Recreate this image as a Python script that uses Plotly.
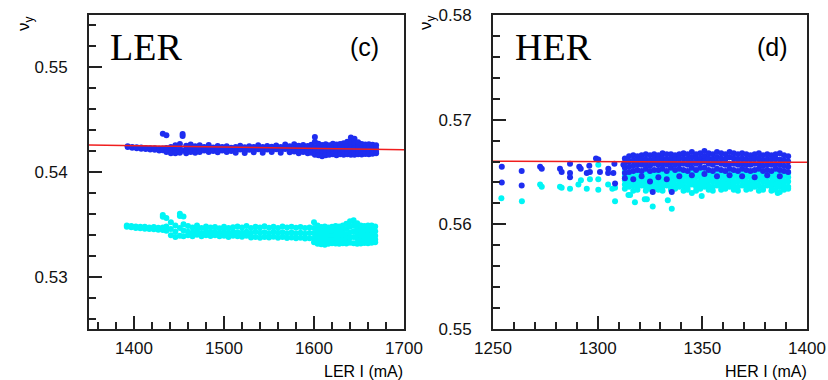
import plotly.graph_objects as go

# ---------------- data ----------------
# LER panel (c): blue = upper band, cyan = lower band; columns of x with the y values at that x
ler_blue_x = [1393, 1398, 1403, 1408, 1413, 1418, 1423, 1428, 1432, 1436, 1441, 1446, 1451, 1454, 1458,
              1463, 1468, 1473, 1478, 1483, 1488, 1493, 1498, 1503, 1508, 1513, 1518, 1523, 1528, 1533,
              1538, 1543, 1548, 1553, 1558, 1563, 1568, 1573, 1578, 1583, 1588, 1593, 1597, 1601, 1605,
              1609, 1613, 1617, 1621, 1625, 1629, 1633, 1637, 1641, 1645, 1649, 1653, 1657, 1661, 1665, 1669]
ler_blue_y = [
    [.54245, .54238], [.54240, .54232], [.54236, .54228], [.54233, .54222], [.54230, .54220],
    [.54226, .54214], [.54228, .54212], [.54222, .54205], [.54365, .54225, .54208], [.54350, .54230, .54190],
    [.54240, .54205, .54180], [.54255, .54215, .54178], [.54268, .54222, .54185], [.54362, .54345, .54205],
    [.54250, .54215, .54180], [.54262, .54225, .54190], [.54245, .54210, .54185], [.54255, .54220, .54192],
    [.54240, .54205], [.54258, .54218, .54190], [.54235, .54200], [.54248, .54212, .54188], [.54238, .54205],
    [.54245, .54215, .54190], [.54232, .54200], [.54240, .54208, .54185], [.54250, .54215],
    [.54236, .54200, .54182], [.54245, .54212], [.54240, .54205, .54188], [.54255, .54218],
    [.54238, .54202, .54185], [.54248, .54215], [.54242, .54208, .54190], [.54252, .54218],
    [.54240, .54205, .54185], [.54262, .54220], [.54245, .54210, .54188], [.54265, .54222, .54195],
    [.54250, .54212, .54180], [.54258, .54220, .54190], [.54248, .54205, .54178], [.54260, .54225, .54185],
    [.54335, .54290, .54240, .54200, .54165], [.54270, .54228, .54190, .54160], [.54258, .54215, .54178, .54150],
    [.54265, .54230, .54195, .54160], [.54255, .54220, .54185, .54165], [.54270, .54232, .54195, .54170],
    [.54262, .54225, .54188, .54160], [.54268, .54230, .54195, .54170], [.54275, .54238, .54200, .54165],
    [.54290, .54245, .54205, .54170], [.54330, .54280, .54235, .54195, .54165],
    [.54318, .54275, .54230, .54190, .54165], [.54285, .54240, .54200, .54170], [.54268, .54230, .54195, .54168],
    [.54262, .54225, .54190, .54172], [.54265, .54228, .54195, .54170], [.54260, .54225, .54192, .54175],
    [.54255, .54222, .54190, .54178],
]

ler_cyan_x = [1392, 1397, 1402, 1407, 1412, 1417, 1422, 1427, 1432, 1436, 1441, 1446, 1451, 1455, 1460,
              1465, 1470, 1475, 1480, 1485, 1490, 1495, 1500, 1505, 1510, 1515, 1520, 1525, 1530, 1535,
              1540, 1545, 1550, 1555, 1560, 1565, 1570, 1575, 1580, 1585, 1590, 1595, 1600, 1604, 1608,
              1612, 1616, 1620, 1624, 1628, 1632, 1636, 1640, 1644, 1648, 1652, 1656, 1660, 1664, 1668]
ler_cyan_y = [
    [.53488, .53478], [.53485, .53472], [.53480, .53466], [.53476, .53462], [.53478, .53458],
    [.53470, .53455], [.53475, .53452], [.53468, .53448], [.53590, .53572, .53470, .53445],
    [.53560, .53480, .53438], [.53520, .53455, .53395], [.53490, .53430, .53380],
    [.53600, .53580, .53465, .53390], [.53575, .53500, .53440, .53385], [.53485, .53430, .53395],
    [.53470, .53420, .53385], [.53490, .53440, .53400], [.53465, .53415, .53385], [.53480, .53435, .53395],
    [.53470, .53425, .53388], [.53475, .53430, .53395], [.53462, .53418, .53385], [.53478, .53432, .53392],
    [.53465, .53420, .53380], [.53472, .53428, .53390], [.53480, .53425, .53385], [.53470, .53420, .53382],
    [.53485, .53430, .53390], [.53465, .53418, .53375], [.53478, .53428, .53380], [.53470, .53420, .53372],
    [.53482, .53425, .53380], [.53468, .53415, .53375], [.53476, .53428, .53382], [.53465, .53418, .53372],
    [.53480, .53425, .53378], [.53470, .53415, .53370], [.53478, .53422, .53375], [.53468, .53412, .53368],
    [.53475, .53420, .53372], [.53465, .53410, .53365], [.53470, .53418, .53368],
    [.53520, .53465, .53415, .53365, .53330], [.53490, .53440, .53395, .53350, .53315],
    [.53475, .53430, .53385, .53345, .53310], [.53480, .53435, .53390, .53350, .53305],
    [.53470, .53428, .53385, .53345, .53315], [.53478, .53432, .53388, .53350, .53320],
    [.53485, .53440, .53395, .53352, .53318], [.53480, .53435, .53390, .53348, .53315],
    [.53490, .53442, .53398, .53355, .53320], [.53505, .53455, .53405, .53360, .53318],
    [.53530, .53480, .53425, .53375, .53325], [.53540, .53490, .53435, .53380, .53320],
    [.53510, .53460, .53410, .53365, .53315], [.53490, .53440, .53395, .53355, .53318],
    [.53485, .53438, .53390, .53350, .53322], [.53490, .53442, .53395, .53352, .53320],
    [.53488, .53440, .53392, .53350, .53325], [.53480, .53435, .53390, .53355, .53328],
]

ler_fit_x = [1350, 1700]
ler_fit_y = [0.54258, 0.54212]

# HER panel (d)
her_blue_sparse_x = [1254.2, 1254.2, 1263.7, 1263.7, 1272.5, 1273.3, 1282.0, 1282.8, 1286.8, 1286.8, 1286.8,
                     1291.2, 1291.9, 1294.8, 1296.0, 1296.3, 1299.2, 1300.3, 1301.1, 1305.1, 1305.0, 1307.5,
                     1308.0, 1308.3, 1312.3, 1326.3, 1335.4]
her_blue_sparse_y = [.5655, .5640, .5651, .5637, .5655, .5653, .5653, .5650, .5658, .5649, .5645,
                     .5655, .5653, .5649, .5656, .5650, .5663, .5662, .5650, .5653, .5649, .5649,
                     .5658, .5639, .5657, .5631, .5631]

her_cyan_sparse_x = [1254.0, 1263.8, 1272.5, 1273.3, 1282.0, 1282.8, 1286.8, 1290.8, 1292.0, 1294.8, 1296.3,
                     1300.3, 1300.3, 1300.3, 1305.0, 1307.0, 1308.3, 1308.3, 1314.7, 1315.5, 1317.8, 1322.5,
                     1323.5, 1326.3, 1333.5, 1335.4, 1345.0, 1349.7, 1386.0]
her_cyan_sparse_y = [.5625, .5622, .5638, .5636, .5636, .5635, .5634, .5638, .5642, .5634, .5643,
                     .5657, .5643, .5633, .5638, .5634, .5635, .5622, .5628, .5628, .5621, .5624,
                     .5624, .5617, .5623, .5615, .5630, .5627, .5630]

her_dense_x = [1313, 1315, 1317, 1319, 1321, 1323, 1325, 1327, 1329, 1331, 1333, 1335, 1337, 1339, 1341,
               1343, 1345, 1347, 1349, 1351, 1353, 1355, 1357, 1359, 1361, 1363, 1365, 1367, 1369, 1371,
               1373, 1375, 1377, 1379, 1381, 1383, 1385, 1387, 1389, 1391]
her_blue_dense_y = [
    [.5663, .5659, .5654, .5649, .5644], [.5665, .5660, .5655, .5650], [.5666, .5661, .5656, .5651, .5643],
    [.5665, .5661, .5657, .5652], [.5666, .5662, .5657, .5651, .5646], [.5667, .5662, .5658, .5653],
    [.5666, .5661, .5656, .5651, .5641], [.5667, .5663, .5658, .5652], [.5666, .5662, .5657, .5652, .5645],
    [.5668, .5663, .5658, .5653], [.5667, .5662, .5657, .5651, .5643], [.5667, .5663, .5659, .5654],
    [.5666, .5662, .5657, .5652], [.5667, .5663, .5658, .5653, .5646], [.5668, .5663, .5658, .5652],
    [.5667, .5662, .5657, .5651], [.5669, .5664, .5659, .5654, .5647], [.5667, .5663, .5658, .5652],
    [.5668, .5663, .5659, .5654], [.5670, .5665, .5660, .5654, .5648], [.5668, .5663, .5658, .5652],
    [.5667, .5662, .5657, .5651], [.5669, .5664, .5659, .5653, .5646], [.5668, .5663, .5658, .5652],
    [.5667, .5662, .5657, .5651], [.5669, .5664, .5658, .5653, .5647], [.5668, .5663, .5658, .5652],
    [.5667, .5662, .5657, .5651], [.5668, .5663, .5658, .5653, .5646], [.5667, .5662, .5657, .5652],
    [.5666, .5662, .5657, .5651], [.5667, .5663, .5658, .5652, .5645], [.5668, .5663, .5658, .5653],
    [.5666, .5661, .5656, .5651], [.5667, .5662, .5657, .5652, .5647], [.5666, .5662, .5657, .5651],
    [.5667, .5663, .5658, .5653], [.5668, .5662, .5657, .5652, .5646], [.5666, .5661, .5656, .5651],
    [.5665, .5660, .5655, .5650],
]
her_cyan_dense_y = [
    [.5650, .5646, .5642, .5638, .5634], [.5648, .5644, .5640, .5636], [.5650, .5645, .5641, .5637, .5632],
    [.5649, .5645, .5640, .5636, .5633], [.5650, .5646, .5642, .5637], [.5649, .5644, .5640, .5636, .5632],
    [.5650, .5646, .5641, .5637, .5634], [.5648, .5644, .5640, .5635], [.5650, .5646, .5642, .5638, .5633],
    [.5649, .5645, .5641, .5636, .5632], [.5650, .5646, .5641, .5637], [.5649, .5645, .5640, .5636, .5633],
    [.5650, .5646, .5642, .5637, .5634], [.5649, .5644, .5640, .5636], [.5650, .5646, .5641, .5637, .5632],
    [.5649, .5645, .5641, .5636, .5633], [.5650, .5646, .5642, .5638], [.5649, .5645, .5640, .5636, .5632],
    [.5650, .5646, .5641, .5637, .5634], [.5649, .5644, .5640, .5636], [.5650, .5646, .5642, .5637, .5633],
    [.5649, .5645, .5641, .5636, .5632], [.5650, .5646, .5641, .5637], [.5649, .5645, .5640, .5636, .5633],
    [.5650, .5646, .5642, .5638, .5634], [.5649, .5644, .5640, .5636], [.5650, .5646, .5641, .5637, .5633],
    [.5649, .5645, .5641, .5636, .5632], [.5650, .5646, .5642, .5637], [.5649, .5645, .5640, .5636, .5633],
    [.5650, .5646, .5641, .5637, .5634], [.5649, .5644, .5640, .5636], [.5650, .5646, .5642, .5637, .5632],
    [.5649, .5645, .5641, .5636, .5633], [.5650, .5646, .5641, .5637], [.5649, .5645, .5640, .5636, .5632],
    [.5650, .5646, .5642, .5638, .5633], [.5649, .5644, .5640, .5636, .5631], [.5650, .5646, .5641, .5637, .5633],
    [.5649, .5645, .5641, .5636, .5634],
]

her_fit_x = [1250, 1400]
her_fit_y = [0.56602, 0.56593]

# ---------------- helpers ----------------
def flatten(xs, ycols):
    fx, fy = [], []
    for x, ys in zip(xs, ycols):
        for y in ys:
            fx.append(x)
            fy.append(y)
    return fx, fy

W, H = 828, 380
def px(x):
    return x / W
def py(y):
    return 1 - y / H

BLUE = "rgb(30,45,240)"
CYAN = "rgb(0,245,245)"
RED = "rgb(240,30,30)"
FONT = "Liberation Sans, Arial, sans-serif"

fig = go.Figure()

mk = lambda c: dict(color=c, size=6, line=dict(width=0))

# LER panel
lbx, lby = flatten(ler_blue_x, ler_blue_y)
lcx, lcy = flatten(ler_cyan_x, ler_cyan_y)
fig.add_trace(go.Scatter(x=lcx, y=lcy, mode="markers", marker=mk(CYAN), xaxis="x", yaxis="y"))
fig.add_trace(go.Scatter(x=lbx, y=lby, mode="markers", marker=mk(BLUE), xaxis="x", yaxis="y"))
fig.add_trace(go.Scatter(x=ler_fit_x, y=ler_fit_y, mode="lines", line=dict(color=RED, width=1.5),
                         xaxis="x", yaxis="y"))

# HER panel
hcx, hcy = flatten(her_dense_x, her_cyan_dense_y)
hbx, hby = flatten(her_dense_x, her_blue_dense_y)
fig.add_trace(go.Scatter(x=hcx + her_cyan_sparse_x, y=hcy + her_cyan_sparse_y, mode="markers",
                         marker=mk(CYAN), xaxis="x2", yaxis="y2"))
fig.add_trace(go.Scatter(x=hbx + her_blue_sparse_x, y=hby + her_blue_sparse_y, mode="markers",
                         marker=mk(BLUE), xaxis="x2", yaxis="y2"))
fig.add_trace(go.Scatter(x=her_fit_x, y=her_fit_y, mode="lines", line=dict(color=RED, width=1.5),
                         xaxis="x2", yaxis="y2"))

ydom = [py(329), py(15)]

def xaxis(domain, rng, dtick, mdtick, anchor):
    return dict(domain=domain, range=rng, anchor=anchor, dtick=dtick, tick0=0,
                ticks="inside", ticklen=13, tickwidth=1.5, tickcolor="#222",
                minor=dict(dtick=mdtick, tick0=0, ticks="inside", ticklen=7, tickwidth=1.5, tickcolor="#222"),
                showline=True, linewidth=2, linecolor="#222", mirror=True, showgrid=False, zeroline=False,
                tickfont=dict(family=FONT, size=17, color="#111"), ticklabelstandoff=3, fixedrange=True)

def yaxis(rng, anchor):
    return dict(domain=ydom, range=rng, anchor=anchor, dtick=0.01, tick0=0.5, tickformat=".2f",
                ticks="inside", ticklen=13, tickwidth=1.5, tickcolor="#222",
                minor=dict(dtick=0.002, tick0=0.5, ticks="inside", ticklen=7, tickwidth=1.5, tickcolor="#222"),
                showline=True, linewidth=2, linecolor="#222", mirror=True, showgrid=False, zeroline=False,
                tickfont=dict(family=FONT, size=17, color="#111"), ticklabelstandoff=16, fixedrange=True)

ann = []
def text(x, y, t, size, family=FONT, xanchor="center", angle=0):
    ann.append(dict(x=px(x), y=py(y), xref="paper", yref="paper", text=t, showarrow=False,
                    xanchor=xanchor, yanchor="middle", textangle=angle,
                    font=dict(family=family, size=size, color="#000")))

text(108, 47, "LER", 38, family="Liberation Serif, Times New Roman, serif", xanchor="left")
text(364, 47, "(c)", 25)
text(513, 47, "HER", 38, family="Liberation Serif, Times New Roman, serif", xanchor="left")
text(772, 47, "(d)", 25)
text(405, 371, "LER I (mA)", 16, xanchor="right")
text(809, 371, "HER I (mA)", 16, xanchor="right")
text(25, 24, "ν<sub>y</sub>", 17, angle=-90)
text(427, 22, "ν<sub>y</sub>", 17, angle=-90)

fig.update_layout(
    width=W, height=H, showlegend=False,
    paper_bgcolor="white", plot_bgcolor="white",
    margin=dict(l=0, r=0, t=0, b=0, autoexpand=False),
    xaxis=xaxis([px(89), px(404)], [1350, 1700], 100, 20, "y"),
    yaxis=yaxis([0.525, 0.555], "x"),
    xaxis2=xaxis([px(493), px(807)], [1250, 1400], 50, 10, "y2"),
    yaxis2=yaxis([0.55, 0.58], "x2"),
    annotations=ann,
)

fig.write_html("out.html", config={"displayModeBar": False},
               post_script="document.body.style.margin='0';document.body.style.overflow='hidden';")
